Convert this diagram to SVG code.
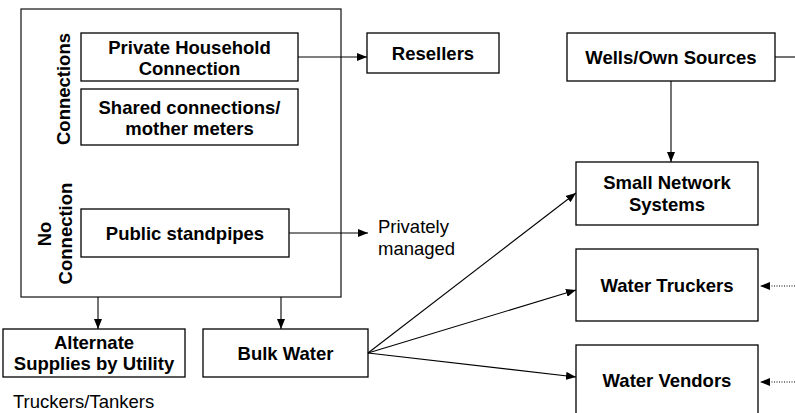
<svg xmlns="http://www.w3.org/2000/svg" width="795" height="413" viewBox="0 0 795 413">
<style>
.box{fill:#fff;stroke:#000;stroke-width:1.3}
.outer{fill:#fff;stroke:#222;stroke-width:1.3}
.b{font-family:"Liberation Sans",Arial,sans-serif;font-weight:bold;font-size:18.5px;fill:#000;text-anchor:middle}
.r{font-family:"Liberation Sans",Arial,sans-serif;font-size:18.5px;fill:#000}
.ln{stroke:#000;stroke-width:1.1;fill:none}
.dot{stroke:#000;stroke-width:1.1;fill:none;stroke-dasharray:1 1.5}
</style>
<defs>
<marker id="ah" viewBox="0 0 10 8" refX="10" refY="4" markerWidth="10" markerHeight="8" markerUnits="userSpaceOnUse" orient="auto">
<path d="M0,0 L10,4 L0,8 Z" fill="#000"/>
</marker>
</defs>
<rect x="0" y="0" width="795" height="413" fill="#fff"/>
<g id="utility">
<rect class="outer" x="21" y="9" width="320" height="288"/>
<text class="b" transform="translate(70,89) rotate(-90)">Connections</text>
<text class="b" transform="translate(51,234) rotate(-90)">No</text>
<text class="b" transform="translate(72,233.5) rotate(-90)">Connection</text>
</g>
<g id="private">
<rect class="box" x="81" y="33" width="217" height="48"/>
<text class="b" x="189.5" y="53.5">Private Household</text>
<text class="b" x="189.5" y="75">Connection</text>
</g>
<g id="shared">
<rect class="box" x="81" y="89" width="217" height="56"/>
<text class="b" x="189.5" y="113.5">Shared connections/</text>
<text class="b" x="189.5" y="135">mother meters</text>
</g>
<g id="standpipes">
<rect class="box" x="81" y="209" width="208" height="48"/>
<text class="b" x="185" y="240">Public standpipes</text>
</g>
<g id="resellers">
<rect class="box" x="367" y="33" width="132" height="40"/>
<text class="b" x="433" y="60">Resellers</text>
</g>
<g id="privately">
<text class="r" x="378" y="233">Privately</text>
<text class="r" x="378" y="255">managed</text>
</g>
<g id="alternate">
<rect class="box" x="3" y="329" width="182" height="48"/>
<text class="b" x="94" y="349">Alternate</text>
<text class="b" x="94" y="370">Supplies by Utility</text>
</g>
<g id="truckers-tankers">
<text class="r" x="13" y="408">Truckers/Tankers</text>
</g>
<g id="bulk">
<rect class="box" x="203" y="329" width="165" height="48"/>
<text class="b" x="285.5" y="360">Bulk Water</text>
</g>
<g id="wells">
<rect class="box" x="567" y="33" width="208" height="48"/>
<text class="b" x="671" y="64">Wells/Own Sources</text>
</g>
<g id="smallnet">
<rect class="box" x="576" y="162" width="182" height="63"/>
<text class="b" x="667" y="189">Small Network</text>
<text class="b" x="667" y="211">Systems</text>
</g>
<g id="watertruckers">
<rect class="box" x="576" y="249" width="182" height="72"/>
<text class="b" x="667" y="292">Water Truckers</text>
</g>
<g id="vendors">
<rect class="box" x="576" y="345" width="182" height="75"/>
<text class="b" x="667" y="387">Water Vendors</text>
</g>
<g id="connectors">
<line class="ln" x1="298" y1="57" x2="367" y2="57" marker-end="url(#ah)"/>
<line class="ln" x1="289" y1="233" x2="368" y2="233" marker-end="url(#ah)"/>
<line class="ln" x1="98" y1="297" x2="98" y2="329" marker-end="url(#ah)"/>
<line class="ln" x1="281" y1="297" x2="281" y2="329" marker-end="url(#ah)"/>
<line class="ln" x1="671" y1="81" x2="671" y2="162" marker-end="url(#ah)"/>
<line class="ln" x1="775" y1="57" x2="795" y2="57"/>
<line class="ln" x1="368" y1="353" x2="576" y2="193" marker-end="url(#ah)"/>
<line class="ln" x1="368" y1="353" x2="576" y2="290" marker-end="url(#ah)"/>
<line class="ln" x1="368" y1="353" x2="576" y2="377" marker-end="url(#ah)"/>
<line class="dot" x1="795" y1="286" x2="760" y2="286" marker-end="url(#ah)"/>
<line class="dot" x1="795" y1="382" x2="760" y2="382" marker-end="url(#ah)"/>
</g>
</svg>
